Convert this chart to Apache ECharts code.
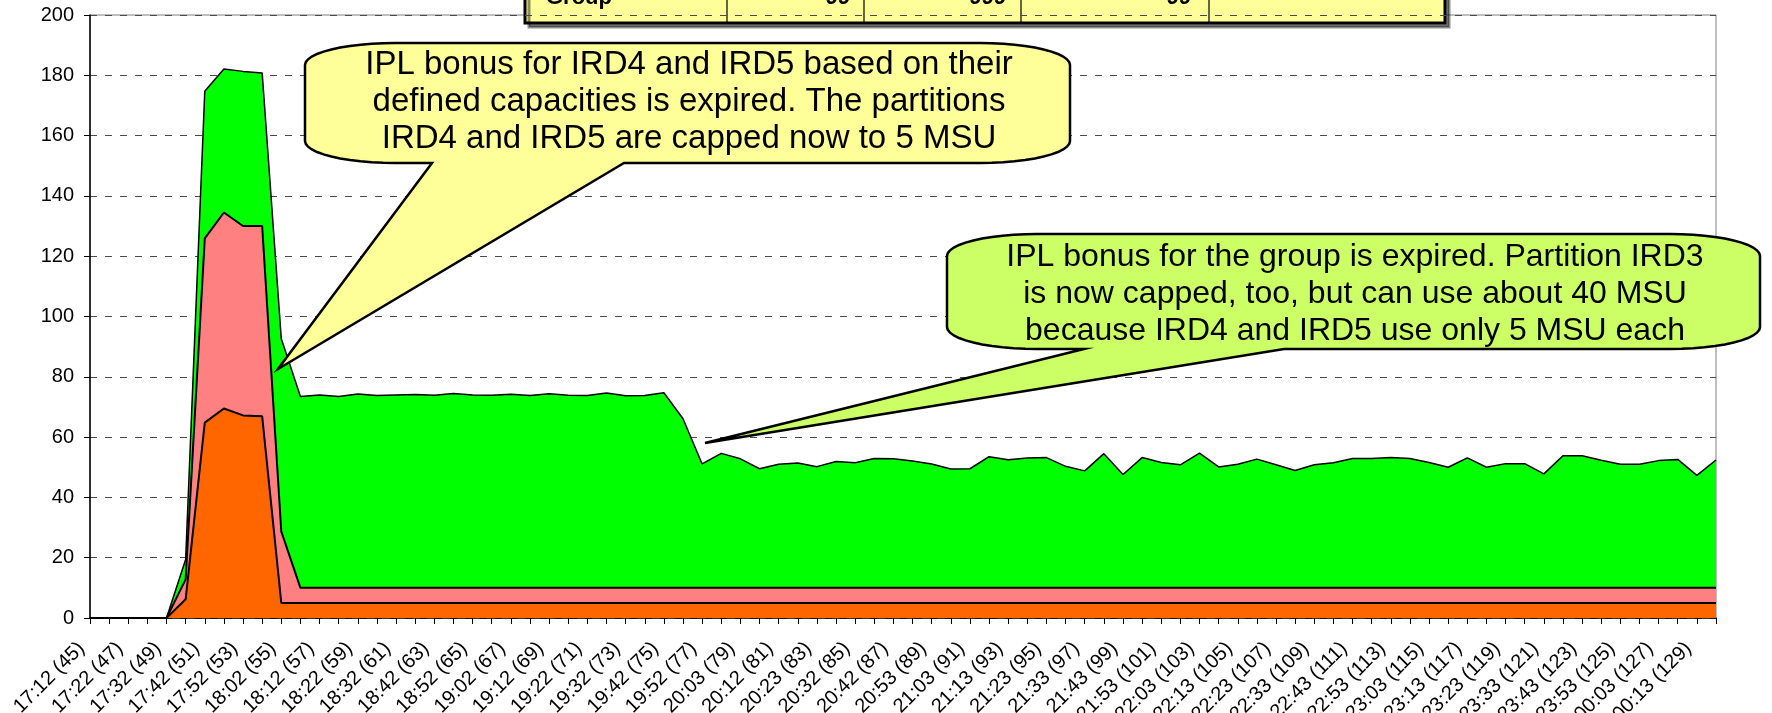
<!DOCTYPE html>
<html>
<head>
<meta charset="utf-8">
<script src="https://cdn.jsdelivr.net/npm/echarts@6/dist/echarts.min.js"></script>
<style>
  html, body { margin: 0; padding: 0; background: #fff; }
  #chart { width: 1772px; height: 713px; }
</style>
</head>
<body>
<div id="chart"></div>
<script>
// categories: time (interval number)
const categories = [
  '17:12 (45)', '17:17 (46)', '17:22 (47)', '17:27 (48)', '17:32 (49)', '17:37 (50)',
  '17:42 (51)', '17:47 (52)', '17:52 (53)', '17:57 (54)', '18:02 (55)', '18:07 (56)',
  '18:12 (57)', '18:17 (58)', '18:22 (59)', '18:27 (60)', '18:32 (61)', '18:37 (62)',
  '18:42 (63)', '18:47 (64)', '18:52 (65)', '18:57 (66)', '19:02 (67)', '19:07 (68)',
  '19:12 (69)', '19:17 (70)', '19:22 (71)', '19:27 (72)', '19:32 (73)', '19:37 (74)',
  '19:42 (75)', '19:47 (76)', '19:52 (77)', '19:57 (78)', '20:03 (79)', '20:07 (80)',
  '20:12 (81)', '20:18 (82)', '20:23 (83)', '20:27 (84)', '20:32 (85)', '20:37 (86)',
  '20:42 (87)', '20:48 (88)', '20:53 (89)', '20:58 (90)', '21:03 (91)', '21:08 (92)',
  '21:13 (93)', '21:18 (94)', '21:23 (95)', '21:28 (96)', '21:33 (97)', '21:38 (98)',
  '21:43 (99)', '21:48 (100)', '21:53 (101)', '21:58 (102)', '22:03 (103)', '22:08 (104)',
  '22:13 (105)', '22:18 (106)', '22:23 (107)', '22:28 (108)', '22:33 (109)', '22:38 (110)',
  '22:43 (111)', '22:48 (112)', '22:53 (113)', '22:58 (114)', '23:03 (115)', '23:08 (116)',
  '23:13 (117)', '23:18 (118)', '23:23 (119)', '23:28 (120)', '23:33 (121)', '23:38 (122)',
  '23:43 (123)', '23:48 (124)', '23:53 (125)', '23:58 (126)', '00:03 (127)', '00:08 (128)',
  '00:13 (129)', '00:18 (130)'
];

// MSU per partition (stacked: IRD4 bottom, IRD5 middle, IRD3 top)
const ird4 = [
  0, 0, 0, 0, 0, 6.2, 64.8, 69.5, 67.2, 66.9, 5, 5,
  5, 5, 5, 5, 5, 5, 5, 5, 5, 5, 5, 5,
  5, 5, 5, 5, 5, 5, 5, 5, 5, 5, 5, 5,
  5, 5, 5, 5, 5, 5, 5, 5, 5, 5, 5, 5,
  5, 5, 5, 5, 5, 5, 5, 5, 5, 5, 5, 5,
  5, 5, 5, 5, 5, 5, 5, 5, 5, 5, 5, 5,
  5, 5, 5, 5, 5, 5, 5, 5, 5, 5, 5, 5,
  5, 5
];
const ird5 = [
  0, 0, 0, 0, 0, 6.6, 61.1, 65.0, 62.8, 63.1, 23.7, 5,
  5, 5, 5, 5, 5, 5, 5, 5, 5, 5, 5, 5,
  5, 5, 5, 5, 5, 5, 5, 5, 5, 5, 5, 5,
  5, 5, 5, 5, 5, 5, 5, 5, 5, 5, 5, 5,
  5, 5, 5, 5, 5, 5, 5, 5, 5, 5, 5, 5,
  5, 5, 5, 5, 5, 5, 5, 5, 5, 5, 5, 5,
  5, 5, 5, 5, 5, 5, 5, 5, 5, 5, 5, 5,
  5, 5
];
const ird3 = [
  0, 0, 0, 0, 0, 6.6, 48.8, 47.6, 51.3, 50.8, 63.9, 63.5,
  64.0, 63.5, 64.3, 63.8, 64.0, 64.1, 63.9, 64.5, 64.0, 63.9, 64.2, 63.8,
  64.4, 63.9, 63.8, 64.6, 63.7, 63.8, 64.7, 56.1, 41.1, 44.6, 42.8, 39.5,
  41.0, 41.4, 40.2, 41.9, 41.5, 42.9, 42.8, 42.1, 41.1, 39.4, 39.5, 43.5,
  42.5, 43.1, 43.2, 40.3, 38.8, 44.5, 37.6, 43.2, 41.6, 40.8, 44.7, 40.1,
  41.0, 42.7, 40.8, 38.9, 40.8, 41.5, 42.9, 42.9, 43.2, 42.9, 41.6, 40.0,
  43.1, 40.0, 41.2, 41.2, 37.8, 43.8, 43.8, 42.3, 41.0, 41.0, 42.2, 42.6,
  37.3, 42.4
];

const yTicks = { min: 0, max: 200, step: 20 };

const note1 = [
  'IPL bonus for IRD4 and IRD5 based on their',
  'defined capacities is expired. The partitions',
  'IRD4 and IRD5 are capped now to 5 MSU'
];
const note2 = [
  'IPL bonus for the group is expired. Partition IRD3',
  'is now capped, too, but can use about 40 MSU',
  'because IRD4 and IRD5 use only 5 MSU each'
];
const tableRow = ['Group', '99', '999', '99', ''];

const FONT = '"Liberation Sans", Arial, sans-serif';

// rounded box with a wedge on its bottom edge
function callout(x1, y1, x2, y2, rx, ry, b1, b2, tip) {
  const pts = [];
  const arc = (cx, cy, a0, a1) => {
    for (let k = 0; k <= 12; k++) {
      const a = a0 + (a1 - a0) * k / 12;
      pts.push([cx + rx * Math.cos(a), cy + ry * Math.sin(a)]);
    }
  };
  arc(x1 + rx, y1 + ry, Math.PI, 1.5 * Math.PI);
  arc(x2 - rx, y1 + ry, 1.5 * Math.PI, 2 * Math.PI);
  arc(x2 - rx, y2 - ry, 0, 0.5 * Math.PI);
  pts.push([b2, y2], tip, [b1, y2]);
  arc(x1 + rx, y2 - ry, 0.5 * Math.PI, Math.PI);
  return pts;
}

function areaSeries(name, data, color, lw) {
  return {
    name: name,
    type: 'line',
    stack: 'total',
    data: data,
    symbol: 'none',
    smooth: false,
    lineStyle: { color: '#000', width: lw },
    areaStyle: { color: color, opacity: 1 },
    emphasis: { disabled: true }
  };
}

function cellText(text, x, align) {
  return {
    type: 'text',
    style: {
      text: text, x: x, y: 9, font: 'bold 22px ' + FONT, fill: '#000',
      textAlign: align, align: align, textVerticalAlign: 'bottom', verticalAlign: 'bottom'
    }
  };
}

const chart = echarts.init(document.getElementById('chart'));

const colX = [727, 864, 1021, 1209];

chart.setOption({
  animation: false,
  backgroundColor: '#fff',
  grid: {
    left: 90, right: 56, top: 15, bottom: 95,
    containLabel: false, outerBoundsMode: 'none',
    show: true, borderColor: '#808080', borderWidth: 1, backgroundColor: 'transparent'
  },
  xAxis: {
    type: 'category',
    boundaryGap: false,
    data: categories,
    axisLine: { lineStyle: { color: '#000', width: 1.5 } },
    axisTick: { show: true, interval: 0, length: 6, lineStyle: { color: '#000' } },
    axisLabel: {
      interval: 1, rotate: 45, fontSize: 20, color: '#000', margin: 19,
      padding: [0, 12, 0, 0], fontFamily: FONT
    },
    splitLine: { show: false }
  },
  yAxis: {
    type: 'value',
    min: yTicks.min, max: yTicks.max, interval: yTicks.step,
    axisLine: { show: true, lineStyle: { color: '#000', width: 1.5 } },
    axisTick: { show: true, length: 6, lineStyle: { color: '#000' } },
    axisLabel: { fontSize: 20, color: '#000', margin: 16, fontFamily: FONT },
    splitLine: { show: true, lineStyle: { color: '#4a4a4a', type: [7, 8], width: 1 } }
  },
  series: [
    areaSeries('IRD4', ird4, '#FF6600', 2),
    areaSeries('IRD5', ird5, '#FF8080', 2),
    areaSeries('IRD3', ird3, '#00FF00', 1.5)
  ],
  graphic: [
    // summary table, cut off by the top edge
    {
      type: 'group', z: 100,
      children: [
        {
          type: 'rect', shape: { x: 525, y: -40, width: 920, height: 63 },
          style: { fill: '#FFFF99', stroke: '#000', lineWidth: 3,
                   shadowColor: 'rgba(0,0,0,0.45)', shadowOffsetX: 4, shadowOffsetY: 4, shadowBlur: 0 }
        }
      ].concat(colX.map(x => ({
        type: 'line', shape: { x1: x, y1: -40, x2: x, y2: 23 },
        style: { stroke: '#000', lineWidth: 1.2 }
      }))).concat([
        cellText(tableRow[0], 546, 'left'),
        cellText(tableRow[1], 850, 'right'),
        cellText(tableRow[2], 1006, 'right'),
        cellText(tableRow[3], 1191, 'right')
      ])
    },
    // first callout
    {
      type: 'polygon', z: 100,
      shape: { points: callout(305, 43, 1070, 163, 90, 22, 432, 624, [278, 369]) },
      style: { fill: '#FFFF99', stroke: '#000', lineWidth: 2.5 }
    },
    {
      type: 'text', z: 101,
      style: {
        text: note1.join('\n'), x: 689, y: 102, font: '33px ' + FONT, lineHeight: 37,
        fill: '#000', textAlign: 'center', align: 'center',
        textVerticalAlign: 'middle', verticalAlign: 'middle'
      }
    },
    // second callout
    {
      type: 'polygon', z: 100,
      shape: { points: callout(947, 234, 1760, 349, 90, 22, 1084, 1284, [705, 443]) },
      style: { fill: '#CCFF66', stroke: '#000', lineWidth: 2.5 }
    },
    {
      type: 'text', z: 101,
      style: {
        text: note2.join('\n'), x: 1355, y: 294, font: '32px ' + FONT, lineHeight: 37,
        fill: '#000', textAlign: 'center', align: 'center',
        textVerticalAlign: 'middle', verticalAlign: 'middle'
      }
    }
  ]
});
</script>
</body>
</html>
